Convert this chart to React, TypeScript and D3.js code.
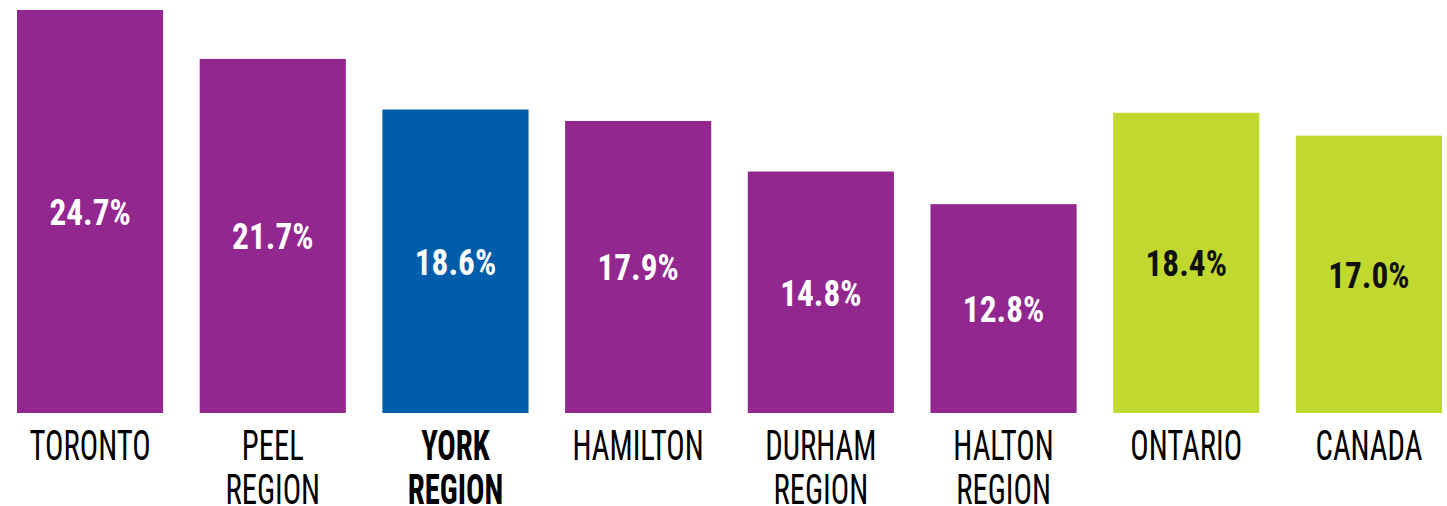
import React from "react";
import * as d3 from "d3";

const categories: string[][] = [
  ["TORONTO"],
  ["PEEL", "REGION"],
  ["YORK", "REGION"],
  ["HAMILTON"],
  ["DURHAM", "REGION"],
  ["HALTON", "REGION"],
  ["ONTARIO"],
  ["CANADA"],
];
const values: number[] = [24.7, 21.7, 18.6, 17.9, 14.8, 12.8, 18.4, 17.0];
const groups: string[] = ["gta", "gta", "york", "gta", "gta", "gta", "ref", "ref"];

const fillColor: Record<string, string> = { gta: "#92278F", york: "#005DAA", ref: "#C1D82F" };
const textColor: Record<string, string> = { gta: "#FFFFFF", york: "#FFFFFF", ref: "#111111" };

const W = 1447;
const H = 506;
const FONT = "'Liberation Sans Narrow', 'Roboto Condensed', 'DejaVu Sans Condensed', sans-serif";

export default function App() {
  const x = d3
    .scaleBand<number>()
    .domain(values.map((_, i) => i))
    .range([17, 1442])
    .paddingInner(0.2)
    .paddingOuter(0);
  const y = d3.scaleLinear().domain([0, 24.7]).range([413, 10]);
  const bw = x.bandwidth();

  return (
    <svg
      width={W}
      height={H}
      style={{ position: "absolute", left: 0, top: 0, background: "#fff" }}
    >
      {values.map((v, i) => {
        const x0 = x(i)!;
        const cx = x0 + bw / 2;
        const top = y(v);
        const mid = (top + y(0)) / 2;
        const g = groups[i];
        return (
          <g key={i}>
            <rect x={x0} y={top} width={bw} height={y(0) - top} fill={fillColor[g]} />
            <text
              transform={`translate(${cx},${mid + 13.5}) scale(0.9,1)`}
              textAnchor="middle"
              fontFamily={FONT}
              fontSize={37}
              fontWeight={700}
              fill={textColor[g]}
            >
              {d3.format(".1f")(v)}%
            </text>
            {categories[i].map((line, j) => (
              <text
                key={j}
                transform={`translate(${cx},${460 + j * 44}) scale(0.73,1)`}
                textAnchor="middle"
                fontFamily={FONT}
                fontSize={42}
                fontWeight={g === "york" ? 700 : 400}
                fill="#000"
              >
                {line}
              </text>
            ))}
          </g>
        );
      })}
    </svg>
  );
}
